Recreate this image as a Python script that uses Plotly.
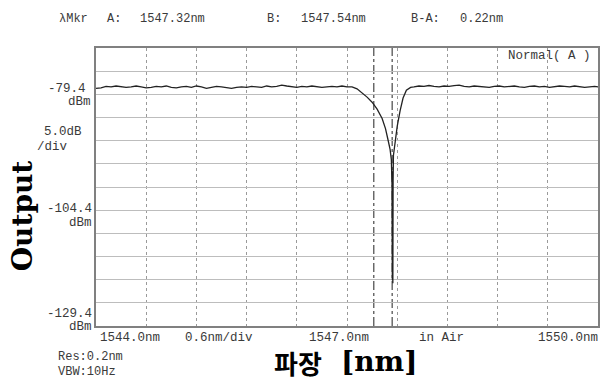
import plotly.graph_objects as go

# ---------------- data ----------------
wavelength_nm = [
    1544.00, 1544.06, 1544.12, 1544.18, 1544.24, 1544.30, 1544.36, 1544.42, 1544.48, 1544.54,
    1544.60, 1544.66, 1544.72, 1544.78, 1544.84, 1544.90, 1544.96, 1545.02, 1545.08, 1545.14,
    1545.20, 1545.26, 1545.32, 1545.38, 1545.44, 1545.50, 1545.56, 1545.62, 1545.68, 1545.74,
    1545.80, 1545.86, 1545.92, 1545.98, 1546.04, 1546.10, 1546.16, 1546.22, 1546.28, 1546.34,
    1546.40, 1546.46, 1546.52, 1546.58, 1546.64, 1546.70, 1546.76, 1546.82, 1546.88, 1546.94,
    1547.00, 1547.06, 1547.12, 1547.18, 1547.24, 1547.30, 1547.36, 1547.42, 1547.46, 1547.49,
    1547.515, 1547.530, 1547.538, 1547.542, 1547.545, 1547.548, 1547.551, 1547.555, 1547.562,
    1547.575, 1547.60, 1547.635, 1547.67, 1547.71, 1547.76, 1547.80,
    1547.86, 1547.92, 1547.98, 1548.04, 1548.10, 1548.16, 1548.22, 1548.28, 1548.34, 1548.40,
    1548.46, 1548.52, 1548.58, 1548.64, 1548.70, 1548.76, 1548.82, 1548.88, 1548.94, 1549.00,
    1549.06, 1549.12, 1549.18, 1549.24, 1549.30, 1549.36, 1549.42, 1549.48, 1549.54, 1549.60,
    1549.66, 1549.72, 1549.78, 1549.84, 1549.90, 1549.96, 1550.00,
]
power_dbm = [
    -78.1, -78.0, -77.7, -77.8, -77.6, -77.7, -77.9, -77.8, -77.6, -77.8,
    -78.0, -77.9, -77.7, -77.8, -77.6, -77.9, -78.0, -77.8, -77.7, -77.9,
    -77.6, -77.8, -78.1, -77.9, -77.7, -77.8, -78.0, -78.1, -77.9, -77.8,
    -77.9, -77.7, -77.8, -77.9, -77.6, -77.8, -77.7, -77.4, -77.6, -77.8,
    -77.9, -77.7, -77.8, -77.6, -77.7, -77.9, -77.8, -77.7, -77.8, -77.6,
    -77.8, -77.8, -78.2, -79.0, -80.0, -81.1, -82.6, -84.6, -86.8, -89.2,
    -91.3, -93.5, -99.0, -119.5, -96.0, -120.2, -98.0, -92.6, -91.4,
    -89.4, -86.3, -82.9, -80.2, -78.5, -77.9, -77.8,
    -77.6, -77.7, -77.5, -77.7, -77.8, -77.6, -77.7, -77.5, -77.4, -77.7,
    -77.8, -77.6, -77.7, -77.8, -77.9, -77.7, -77.6, -77.8, -77.7, -77.6,
    -77.8, -77.9, -77.7, -77.6, -77.8, -77.7, -77.9, -77.8, -77.6, -77.7,
    -77.8, -77.6, -77.7, -77.9, -77.8, -77.7, -77.8,
]
marker_wavelengths = [1547.32, 1547.54]
x_range = [1544.0, 1550.0]
x_div = 0.6
y_range = [-129.4, -69.4]
y_div = 5.0

header_texts = ["λMkr", "A:", "1547.32nm", "B:", "1547.54nm", "B-A:", "0.22nm"]
bottom_labels = ["1544.0nm", "0.6nm/div", "1547.0nm", "in Air", "1550.0nm"]
left_labels = ["-79.4", "dBm", "5.0dB", "/div", "-104.4", "dBm", "-129.4", "dBm"]
info_labels = ["Res:0.2nm", "VBW:10Hz"]
mode_label = "Normal( A )"

# ---------------- layout helpers ----------------
W, H = 605, 381
L, R, T, B = 96, 600, 48, 326


def px(x):
    return (x - L) / (R - L)


def py(y):
    return (B - y) / (B - T)


MONO = "Liberation Mono, DejaVu Sans Mono, monospace"
TXT = "#3a3a3a"

fig = go.Figure()
fig.add_trace(go.Scatter(
    x=wavelength_nm, y=power_dbm, mode="lines",
    line=dict(color="#222222", width=1.3), hoverinfo="skip", showlegend=False,
))

for mw in marker_wavelengths:
    fig.add_shape(type="line", xref="x", yref="paper", x0=mw, x1=mw, y0=0, y1=1,
                  line=dict(color="#555555", width=1.3, dash="dashdot"), layer="below")

ann = []


def add_text(text, x, y, size=13, anchor="left", family=MONO, color=TXT, **kw):
    ann.append(dict(text=text, xref="paper", yref="paper", x=px(x), y=py(y),
                    xanchor=anchor, yanchor="middle", showarrow=False,
                    font=dict(family=family, size=size, color=color), **kw))


# header
hx = [57, 105, 138, 266, 300, 410, 459]
for t, x in zip(header_texts, hx):
    add_text(t, x, 19, size=12)

# bottom axis labels
add_text(bottom_labels[0], 98, 338, size=12.5)
add_text(bottom_labels[1], 183, 338, size=12.5)
add_text(bottom_labels[2], 340, 338, size=12.5, anchor="center")
add_text(bottom_labels[3], 443, 338, size=12.5, anchor="center")
add_text(bottom_labels[4], 602, 338, size=12.5, anchor="right")

# left labels
ly = [89, 102, 132, 147, 209, 223, 314, 327]
lx = [88, 93, 84, 70, 94, 94, 94, 94]
for t, x, y in zip(left_labels, lx, ly):
    add_text(t, x, y, size=12.5, anchor="right")

add_text(info_labels[0], 56, 357, size=12)
add_text(info_labels[1], 56, 372, size=12)
add_text(mode_label, 551, 56, size=12.5, anchor="center")

# axis titles
add_text("<b>Output</b>", 22, 216, size=28, anchor="center",
         family="DejaVu Serif, serif", color="#000000", textangle=-90)
add_text("<b>파장</b>", 299, 362, size=26, anchor="center",
         family="Noto Sans CJK KR", color="#000000")
add_text("<b>[nm]</b>", 380, 361, size=28, anchor="center",
         family="DejaVu Serif, serif", color="#000000")

fig.update_layout(
    width=W, height=H,
    margin=dict(l=L, r=W - R, t=T, b=H - B, pad=0),
    paper_bgcolor="white", plot_bgcolor="white",
    annotations=ann, showlegend=False,
    xaxis=dict(range=x_range, tick0=x_range[0], dtick=x_div, showticklabels=False,
               ticks="", showgrid=True, gridcolor="#9a9a9a", gridwidth=1, griddash="dot",
               zeroline=False, showline=True, linecolor="#808080", linewidth=2, mirror=True),
    yaxis=dict(range=y_range, tick0=y_range[0], dtick=y_div, showticklabels=False,
               ticks="", showgrid=True, gridcolor="#bdbdbd", gridwidth=1,
               zeroline=False, showline=True, linecolor="#808080", linewidth=2, mirror=True),
)

fig.write_html("out.html", config={"displayModeBar": False},
               post_script="document.body.style.margin='0';")
